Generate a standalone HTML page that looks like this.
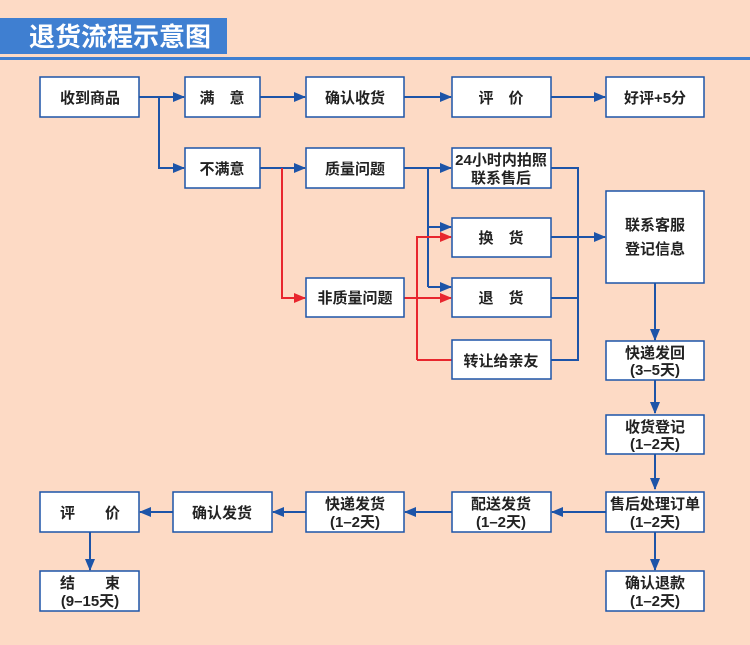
<!DOCTYPE html>
<html><head><meta charset="utf-8"><style>
html,body{margin:0;padding:0;background:#fddac5;}
svg{display:block}
text{font-family:"Liberation Sans","Noto Sans CJK SC",sans-serif;font-weight:bold;fill:#222;font-size:15px;text-anchor:middle}
</style></head><body>
<svg width="750" height="645" viewBox="0 0 750 645" xmlns="http://www.w3.org/2000/svg">
<defs>
<marker id="b" markerWidth="12" markerHeight="10" refX="11" refY="5" orient="auto" markerUnits="userSpaceOnUse"><path d="M0,0 L12,5 L0,10 Z" fill="#1d54a8"/></marker>
<marker id="r" markerWidth="12" markerHeight="10" refX="11" refY="5" orient="auto" markerUnits="userSpaceOnUse"><path d="M0,0 L12,5 L0,10 Z" fill="#e8262e"/></marker>
</defs>
<rect width="750" height="645" fill="#fddac5"/>
<rect x="0" y="18" width="227" height="36" fill="#3f7fd1"/>
<rect x="0" y="57" width="750" height="3" fill="#3f7fd1"/>
<text x="120" y="46" style="fill:#fff;font-size:26px;text-anchor:middle">退货流程示意图</text>

<g fill="none" stroke-width="2">
<!-- blue lines -->
<g stroke="#1d54a8">
<path d="M139 97 H184" marker-end="url(#b)"/>
<path d="M159 97 V168 H184" marker-end="url(#b)"/>
<path d="M260 97 H305" marker-end="url(#b)"/>
<path d="M404 97 H451" marker-end="url(#b)"/>
<path d="M551 97 H605" marker-end="url(#b)"/>
<path d="M260 168 H305" marker-end="url(#b)"/>
<path d="M404 168 H451" marker-end="url(#b)"/>
<path d="M428 168 V287"/>
<path d="M428 227 H451" marker-end="url(#b)"/>
<path d="M428 287 H451" marker-end="url(#b)"/>
<path d="M551 168 H578 V360 H551"/>
<path d="M551 298 H578"/>
<path d="M551 237 H605" marker-end="url(#b)"/>
<path d="M655 283 V340" marker-end="url(#b)"/>
<path d="M655 380 V413" marker-end="url(#b)"/>
<path d="M655 453 V489" marker-end="url(#b)"/>
<path d="M655 530 V570" marker-end="url(#b)"/>
<path d="M606 512 H552" marker-end="url(#b)"/>
<path d="M452 512 H405" marker-end="url(#b)"/>
<path d="M306 512 H273" marker-end="url(#b)"/>
<path d="M173 512 H140" marker-end="url(#b)"/>
<path d="M90 532 V570" marker-end="url(#b)"/>
</g>
<g stroke="#e8262e">
<path d="M282 168 V298 H305" marker-end="url(#r)"/>
<path d="M404 298 H451" marker-end="url(#r)"/>
<path d="M417 360 V237 H451" marker-end="url(#r)"/>
<path d="M417 360 H452"/>
</g>
</g>

<g fill="#fff" stroke="#1d54a8" stroke-width="1.5">
<rect x="40" y="77" width="99" height="40"/>
<rect x="185" y="77" width="75" height="40"/>
<rect x="306" y="77" width="98" height="40"/>
<rect x="452" y="77" width="99" height="40"/>
<rect x="606" y="77" width="98" height="40"/>
<rect x="185" y="148" width="75" height="40"/>
<rect x="306" y="148" width="98" height="40"/>
<rect x="452" y="148" width="99" height="40"/>
<rect x="452" y="218" width="99" height="39"/>
<rect x="306" y="278" width="98" height="39"/>
<rect x="452" y="278" width="99" height="39"/>
<rect x="452" y="340" width="99" height="39"/>
<rect x="606" y="191" width="98" height="92"/>
<rect x="606" y="341" width="98" height="39"/>
<rect x="606" y="415" width="98" height="39"/>
<rect x="606" y="492" width="98" height="40"/>
<rect x="606" y="571" width="98" height="40"/>
<rect x="452" y="492" width="99" height="40"/>
<rect x="306" y="492" width="98" height="40"/>
<rect x="173" y="492" width="99" height="40"/>
<rect x="40" y="492" width="99" height="40"/>
<rect x="40" y="571" width="99" height="40"/>
</g>

<text x="90" y="103">收到商品</text>
<text x="222" y="103">满　意</text>
<text x="355" y="103">确认收货</text>
<text x="501" y="103">评　价</text>
<text x="655" y="103">好评+5分</text>
<text x="222" y="174">不满意</text>
<text x="355" y="174">质量问题</text>
<text x="501" y="165" style="font-size:15px">24小时内拍照</text>
<text x="501" y="183">联系售后</text>
<text x="501" y="243">换　货</text>
<text x="355" y="303">非质量问题</text>
<text x="501" y="303">退　货</text>
<text x="501" y="366">转让给亲友</text>
<text x="655" y="230">联系客服</text>
<text x="655" y="254">登记信息</text>
<text x="655" y="358">快递发回</text>
<text x="655" y="375">(3–5天)</text>
<text x="655" y="432">收货登记</text>
<text x="655" y="449">(1–2天)</text>
<text x="655" y="509">售后处理订单</text>
<text x="655" y="527">(1–2天)</text>
<text x="655" y="588">确认退款</text>
<text x="655" y="606">(1–2天)</text>
<text x="501" y="509">配送发货</text>
<text x="501" y="527">(1–2天)</text>
<text x="355" y="509">快递发货</text>
<text x="355" y="527">(1–2天)</text>
<text x="222" y="518">确认发货</text>
<text x="90" y="518">评　　价</text>
<text x="90" y="588">结　　束</text>
<text x="90" y="606">(9–15天)</text>
</svg>
</body></html>
